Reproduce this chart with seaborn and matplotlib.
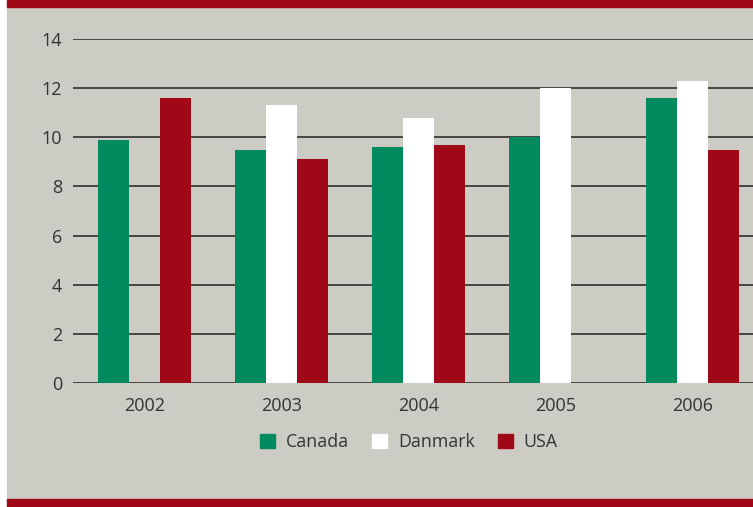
import numpy as np
import pandas as pd
import matplotlib
matplotlib.use("Agg")
import matplotlib.pyplot as plt
import matplotlib.patches as mpatches
import seaborn as sns

# data
years = ["2002", "2003", "2004", "2005", "2006"]
countries = ["Canada", "Danmark", "USA"]
canada = [9.9, 9.5, 9.6, 10.0, 11.6]
danmark = [np.nan, 11.3, 10.8, 12.0, 12.3]
usa = [11.6, 9.1, 9.7, np.nan, 9.5]

colors = ["#008a5e", "#ffffff", "#a00818"]
bg = "#cccbc4"
red = "#a00818"
text_col = "#333333"

rows = []
for name, vals in zip(countries, [canada, danmark, usa]):
    for yr, v in zip(years, vals):
        rows.append({"Year": yr, "Country": name, "Value": v})
df = pd.DataFrame(rows).dropna()

sns.set_style("white")
plt.rcParams["font.family"] = ["Open Sans", "DejaVu Sans"]

W, H = 753, 507
fig = plt.figure(figsize=(W / 100, H / 100), dpi=100, facecolor="white")

# background panel and red bands
fig.patches.append(mpatches.Rectangle((7 / W, 8 / H), 1 - 7 / W, 1 - 15 / H,
                                      transform=fig.transFigure, color=bg, zorder=-3))
fig.patches.append(mpatches.Rectangle((7 / W, 1 - 7 / H), 1 - 7 / W, 7 / H,
                                      transform=fig.transFigure, color=red, zorder=-2))
fig.patches.append(mpatches.Rectangle((7 / W, 0), 1 - 7 / W, 8 / H,
                                      transform=fig.transFigure, color=red, zorder=-2))

ax = fig.add_axes([73 / W, 1 - 383 / H, 1 - 73 / W, (383 - 39) / H])
ax.set_facecolor("none")

sns.barplot(data=df, x="Year", y="Value", hue="Country", order=years,
            hue_order=countries, palette=colors, width=0.68, saturation=1,
            linewidth=0, ax=ax, zorder=3)

ax.set_xlim(-0.525, 4.44)
ax.set_ylim(0, 14)
ax.set_yticks(range(0, 15, 2))
ax.yaxis.grid(True, color="#2e2e2e", linewidth=1.2, zorder=0)
ax.set_axisbelow(True)
for s in ax.spines.values():
    s.set_visible(False)
ax.tick_params(axis="both", length=0, labelsize=13, labelcolor=text_col)
ax.tick_params(axis="y", pad=8)
ax.tick_params(axis="x", pad=10)
ax.set_xlabel("")
ax.set_ylabel("")

ax.get_legend().remove()
handles = [mpatches.Patch(color=c, label=n) for c, n in zip(colors, countries)]
fig.legend(handles=handles, loc="center", bbox_to_anchor=(409 / W, 1 - 442 / H),
           ncol=3, frameon=False, fontsize=12.8, handlelength=0.85,
           handleheight=0.85, handletextpad=0.6, columnspacing=1.3,
           labelcolor=text_col)

fig.savefig("out.png", dpi=100, facecolor="white")
